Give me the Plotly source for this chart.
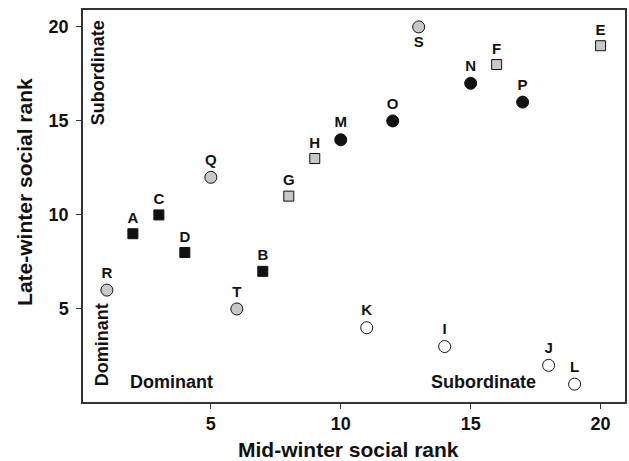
import plotly.graph_objects as go

labels = ["A","B","C","D","E","F","G","H","I","J","K","L","M","N","O","P","Q","R","S","T"]
mid_rank = [2,7,3,4,20,16,8,9,14,18,11,19,10,15,12,17,5,1,13,6]
late_rank = [9,7,10,8,19,18,11,13,3,2,4,1,14,17,15,16,12,6,20,5]
groups = ["bsq","bsq","bsq","bsq","gsq","gsq","gsq","gsq","oc","oc","oc","oc",
          "bc","bc","bc","bc","gc","gc","gc","gc"]
label_pos = ["top center"]*20
label_pos[labels.index("S")] = "bottom center"

styles = {
    "bsq": dict(symbol="square", color="#111111"),
    "gsq": dict(symbol="square", color="#c8c8c8"),
    "oc": dict(symbol="circle", color="#ffffff"),
    "bc": dict(symbol="circle", color="#111111"),
    "gc": dict(symbol="circle", color="#c8c8c8"),
}

FONT = "Liberation Sans, Arial, Helvetica, sans-serif"
fig = go.Figure()
for g, st in styles.items():
    idx = [i for i in range(len(labels)) if groups[i] == g]
    sz = 10 if st["symbol"] == "square" else 12
    fig.add_trace(go.Scatter(
        x=[mid_rank[i] for i in idx], y=[late_rank[i] for i in idx],
        text=[labels[i] for i in idx], textposition=[label_pos[i] for i in idx],
        mode="markers+text",
        marker=dict(symbol=st["symbol"], size=sz, color=st["color"],
                    line=dict(color="#111111", width=1)),
        textfont=dict(family=FONT, size=15, color="#111111", weight="bold"),
        showlegend=False, cliponaxis=False))

axis_common = dict(showline=True, linecolor="#333333", linewidth=1.5, mirror=True,
                   ticks="outside", ticklen=5, tickcolor="#333333", showgrid=False,
                   zeroline=False, tickfont=dict(family=FONT, size=18, color="#111111", weight="bold"))
fig.update_xaxes(range=[0.08, 20.94], tickvals=[5,10,15,20], **axis_common)
fig.update_yaxes(range=[0.05, 20.9], tickvals=[5,10,15,20], ticklabelstandoff=4, **axis_common)

title_font = dict(family=FONT, size=21, color="#111111", weight="bold")
fig.add_annotation(x=0.489, y=-0.12, xref="paper", yref="paper", text="Mid-winter social rank",
                   showarrow=False, xanchor="center", yanchor="middle", font=title_font)
fig.add_annotation(x=-0.107, y=0.536, xref="paper", yref="paper", text="Late-winter social rank",
                   textangle=-90, showarrow=False, xanchor="center", yanchor="middle", font=title_font)

ann_font = dict(family=FONT, size=18, color="#111111", weight="bold")
fig.add_annotation(x=0.0276, y=0.98, xref="paper", yref="paper", text="Subordinate", textangle=-90,
                   showarrow=False, xanchor="center", yanchor="top", font=ann_font)
fig.add_annotation(x=0.035, y=0.036, xref="paper", yref="paper", text="Dominant", textangle=-90,
                   showarrow=False, xanchor="center", yanchor="bottom", font=ann_font)
fig.add_annotation(x=0.083, y=0.051, xref="paper", yref="paper", text="Dominant",
                   showarrow=False, xanchor="left", yanchor="middle", font=ann_font)
fig.add_annotation(x=0.739, y=0.051, xref="paper", yref="paper", text="Subordinate",
                   showarrow=False, xanchor="center", yanchor="middle", font=ann_font)

fig.update_layout(width=629, height=461, margin=dict(l=83, r=2, t=10, b=59),
                  plot_bgcolor="white", paper_bgcolor="white")
fig.write_html("out.html")
